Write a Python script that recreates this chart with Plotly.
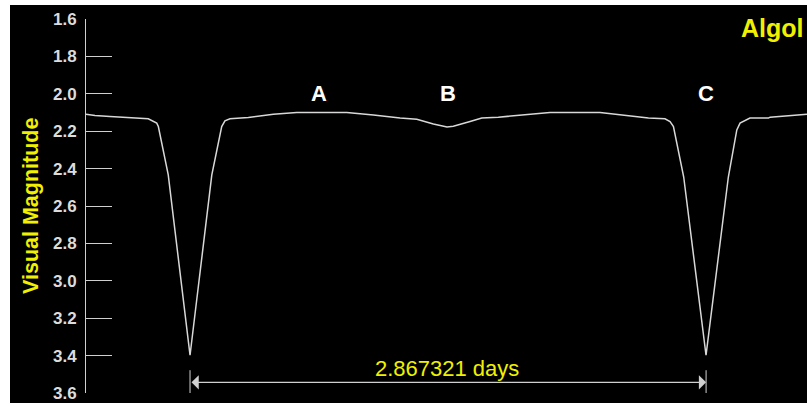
import plotly.graph_objects as go

# ---- data ----
period_days = 2.867321
t_days = [-0.578, -0.528, -0.445, -0.333, -0.232, -0.185, -0.176, -0.121, 0.000, 0.121,
          0.176, 0.194, 0.222, 0.324, 0.398, 0.463, 0.593, 0.871, 1.019, 1.093,
          1.167, 1.260, 1.352, 1.428, 1.463, 1.556, 1.621, 1.713, 1.788, 1.862,
          2.000, 2.278, 2.408, 2.473, 2.547, 2.639, 2.667, 2.686, 2.743, 2.867,
          2.991, 3.038, 3.056, 3.111, 3.214, 3.223, 3.306, 3.390, 3.428]
vmag = [2.109, 2.116, 2.122, 2.130, 2.134, 2.157, 2.175, 2.434, 3.398, 2.434,
        2.175, 2.145, 2.134, 2.127, 2.118, 2.109, 2.100, 2.100, 2.113, 2.122,
        2.130, 2.136, 2.161, 2.177, 2.173, 2.148, 2.130, 2.125, 2.118, 2.109,
        2.100, 2.100, 2.113, 2.122, 2.130, 2.134, 2.149, 2.175, 2.445, 3.398,
        2.445, 2.193, 2.157, 2.130, 2.130, 2.125, 2.118, 2.113, 2.109]
ytick_vals = [1.6, 1.8, 2.0, 2.2, 2.4, 2.6, 2.8, 3.0, 3.2, 3.4, 3.6]
ytick_text = ["1.6", "1.8", "2.0", "2.2", "2.4", "2.6", "2.8", "3.0", "3.2", "3.4", "3.6"]
point_labels = ["A", "B", "C"]
point_label_t = [0.717, 1.434, 2.867]
point_label_mag = 2.0
period_label = "2.867321 days"
star_name = "Algol"
y_title = "Visual Magnitude"

YELLOW = "#f0f000"
GREY = "#d0d0d0"
FONT = "Liberation Sans, Arial, sans-serif"

fig = go.Figure()
fig.add_trace(go.Scatter(x=t_days, y=vmag, mode="lines",
                         line=dict(color="#d8d8d8", width=1.5),
                         hoverinfo="skip", showlegend=False))

W, H = 807, 406
L, R, T, B = 86, 0, 19, 13
pw, ph = W - L - R, H - T - B

def px_to_paper_x(px):
    return (px - L) / pw

def py_to_paper_y(py):
    return (H - B - py) / ph

shapes = [
    # black panel with thin white margin at top/left/bottom
    dict(type="rect", xref="paper", yref="paper",
         x0=px_to_paper_x(10), x1=1.0, y0=py_to_paper_y(403), y1=py_to_paper_y(5),
         fillcolor="black", line=dict(width=0), layer="below"),
    # end bars of the period marker
    dict(type="line", xref="x", yref="y", x0=0, x1=0, y0=3.478, y1=3.6,
         line=dict(color=GREY, width=1)),
    dict(type="line", xref="x", yref="y", x0=period_days, x1=period_days, y0=3.478, y1=3.6,
         line=dict(color=GREY, width=1)),
]

annotations = []
for lab, tx in zip(point_labels, point_label_t):
    annotations.append(dict(x=tx, y=point_label_mag, xref="x", yref="y", text=lab,
                            showarrow=False, xanchor="center", yanchor="middle",
                            font=dict(family=FONT, size=22, color="white", weight="bold")))
# double-headed period arrow
annotations.append(dict(x=period_days, y=3.543, ax=0, ay=3.543, xref="x", yref="y",
                        axref="x", ayref="y", text="", showarrow=True,
                        arrowhead=1, startarrowhead=1, arrowside="end+start",
                        arrowsize=2, startarrowsize=2, arrowwidth=1.2,
                        arrowcolor=GREY, standoff=0, startstandoff=0))
annotations.append(dict(x=period_days / 2 - 0.008, y=3.467, xref="x", yref="y", text=period_label,
                        showarrow=False, xanchor="center", yanchor="middle",
                        font=dict(family=FONT, size=22, color=YELLOW)))
annotations.append(dict(x=px_to_paper_x(806), y=py_to_paper_y(28), xref="paper", yref="paper",
                        text=star_name, showarrow=False, xanchor="right", yanchor="middle",
                        font=dict(family=FONT, size=25, color=YELLOW, weight="bold")))
annotations.append(dict(x=px_to_paper_x(31), y=py_to_paper_y(206), xref="paper", yref="paper",
                        text=y_title, showarrow=False, textangle=-90,
                        xanchor="center", yanchor="middle",
                        font=dict(family=FONT, size=21.5, color=YELLOW, weight="bold")))

fig.update_layout(
    width=W, height=H, autosize=False,
    margin=dict(l=L, r=R, t=T, b=B, pad=0),
    paper_bgcolor="white", plot_bgcolor="black",
    showlegend=False,
    shapes=shapes, annotations=annotations,
    xaxis=dict(range=[t_days[0], t_days[-1]], visible=False, fixedrange=True),
    yaxis=dict(range=[3.6, 1.6], tickvals=ytick_vals, ticktext=ytick_text,
               showline=True, linecolor=GREY, linewidth=1,
               ticks="inside", ticklen=26, tickwidth=1, tickcolor=GREY,
               showgrid=False, zeroline=False, ticklabelstandoff=5,
               tickfont=dict(family=FONT, size=17, color="#dcdcdc", weight="bold"),
               fixedrange=True),
)

fig.write_html("out.html", config={"displayModeBar": False},
               post_script="document.body.style.margin='0';document.body.style.overflow='hidden';")
